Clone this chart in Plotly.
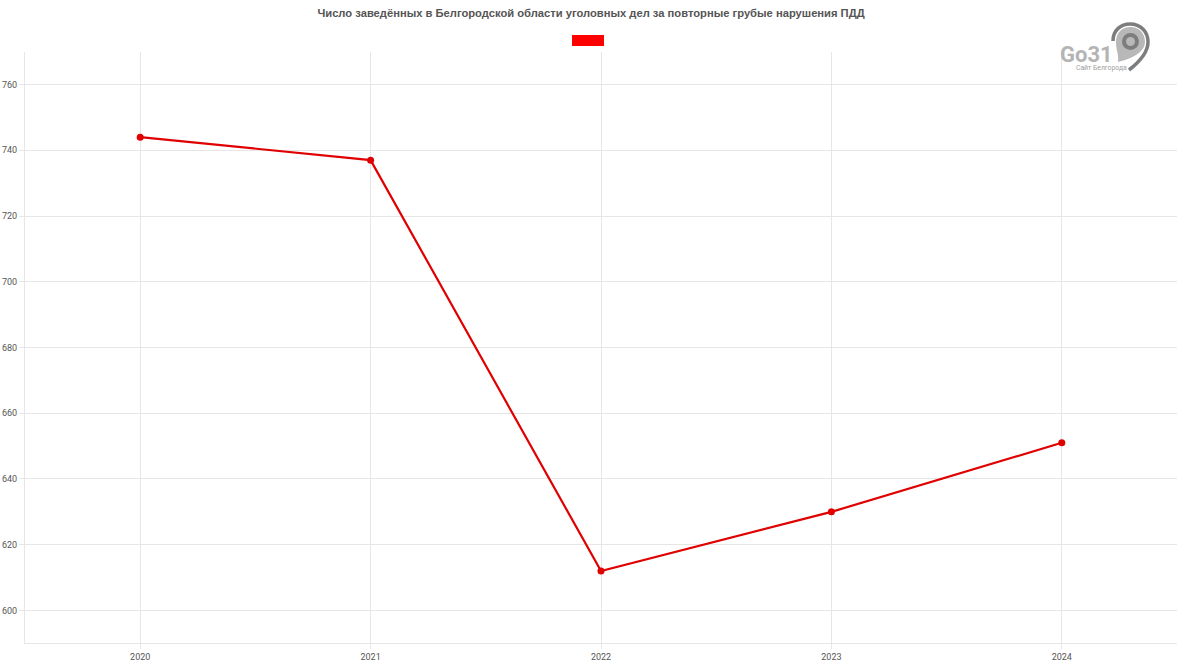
import plotly.graph_objects as go

years = [2020, 2021, 2022, 2023, 2024]
cases = [744, 737, 612, 630, 651]
y_ticks = [600, 620, 640, 660, 680, 700, 720, 740, 760]
title = "Число заведённых в Белгородской области уголовных дел за повторные грубые нарушения ПДД"

W, H = 1181, 665
L, R, T, B = 25, 1177, 52, 643


def px(x):
    return (x - L) / (R - L)


def py(y):
    return (B - y) / (B - T)


def path(pts):
    out = []
    for cmd, *c in pts:
        s = cmd
        for i in range(0, len(c), 2):
            s += f" {px(c[i]):.5f},{py(c[i + 1]):.5f}"
        out.append(s)
    return " ".join(out)


pin_fill = path([("M", 1116, 42), ("C", 1116, 32, 1123, 27, 1130, 27), ("C", 1139, 27, 1145, 33, 1145, 42),
                 ("C", 1145, 50, 1136, 58, 1118, 62), ("C", 1119, 55, 1116, 50, 1116, 42), ("Z",)])
pin_arc = path([("M", 1113, 41), ("C", 1113, 30, 1121, 24, 1130, 24), ("C", 1141, 24, 1148, 32, 1148, 42),
                ("C", 1148, 53, 1138, 63, 1129, 70)])

fig = go.Figure(
    go.Scatter(
        x=years, y=cases, mode="lines+markers",
        line=dict(color="#e00000", width=2.2),
        marker=dict(color="#e00000", size=7),
        showlegend=False, hoverinfo="x+y",
    )
)

shapes = [
    dict(type="rect", xref="paper", yref="paper", x0=px(572), x1=px(604), y0=py(46), y1=py(35),
         fillcolor="#ff0000", line_width=0, layer="above"),
    dict(type="path", xref="paper", yref="paper", path=pin_fill, fillcolor="#b8b8b8", line_width=0, layer="above"),
    dict(type="path", xref="paper", yref="paper", path=pin_arc, line=dict(color="#7d7d7d", width=3.5), layer="above"),
    dict(type="circle", xref="paper", yref="paper", x0=px(1122), x1=px(1139), y0=py(50), y1=py(33),
         fillcolor="#7d7d7d", line_width=0, layer="above"),
    dict(type="circle", xref="paper", yref="paper", x0=px(1126), x1=px(1135), y0=py(46), y1=py(37),
         fillcolor="#b8b8b8", line_width=0, layer="above"),
]

annotations = [
    dict(text="Go31", xref="paper", yref="paper", x=px(1058), y=py(54.5), xanchor="left", yanchor="middle",
         showarrow=False, font=dict(family="Roboto", size=22, color="#b4b4b4", weight="bold")),
    dict(text="Сайт Белгорода", xref="paper", yref="paper", x=px(1101.5), y=py(68), xanchor="center", yanchor="middle",
         showarrow=False, font=dict(family="Roboto", size=6.8, color="#a0a0a0")),
]

fig.update_layout(
    width=W, height=H, margin=dict(l=L, r=W - R, t=T, b=H - B),
    paper_bgcolor="white", plot_bgcolor="white",
    title=dict(text=title, x=591 / W, xanchor="center", y=1 - 13.5 / H, yanchor="middle",
               font=dict(family="Liberation Sans", size=11.2, color="#555555", weight="bold")),
    shapes=shapes, annotations=annotations,
    font=dict(family="Roboto", size=9, color="#555555"),
)
fig.update_xaxes(range=[2019.5, 2024.5], tickvals=years, showgrid=True, gridcolor="#e6e6e6", gridwidth=1,
                 ticks="outside", ticklen=5, tickcolor="#e6e6e6", showline=True, linecolor="#e6e6e6",
                 zeroline=False, automargin=False, tickfont=dict(size=9, color="#555555"))
fig.update_yaxes(range=[590.1, 769.9], tickvals=y_ticks, showgrid=True, gridcolor="#e6e6e6", gridwidth=1,
                 ticks="outside", ticklen=5, tickcolor="#e6e6e6", showline=True, linecolor="#e6e6e6",
                 zeroline=False, automargin=False, tickfont=dict(size=9, color="#555555"))

fig.write_html("out.html", config={"displayModeBar": False},
               post_script="document.body.style.margin='0';")
